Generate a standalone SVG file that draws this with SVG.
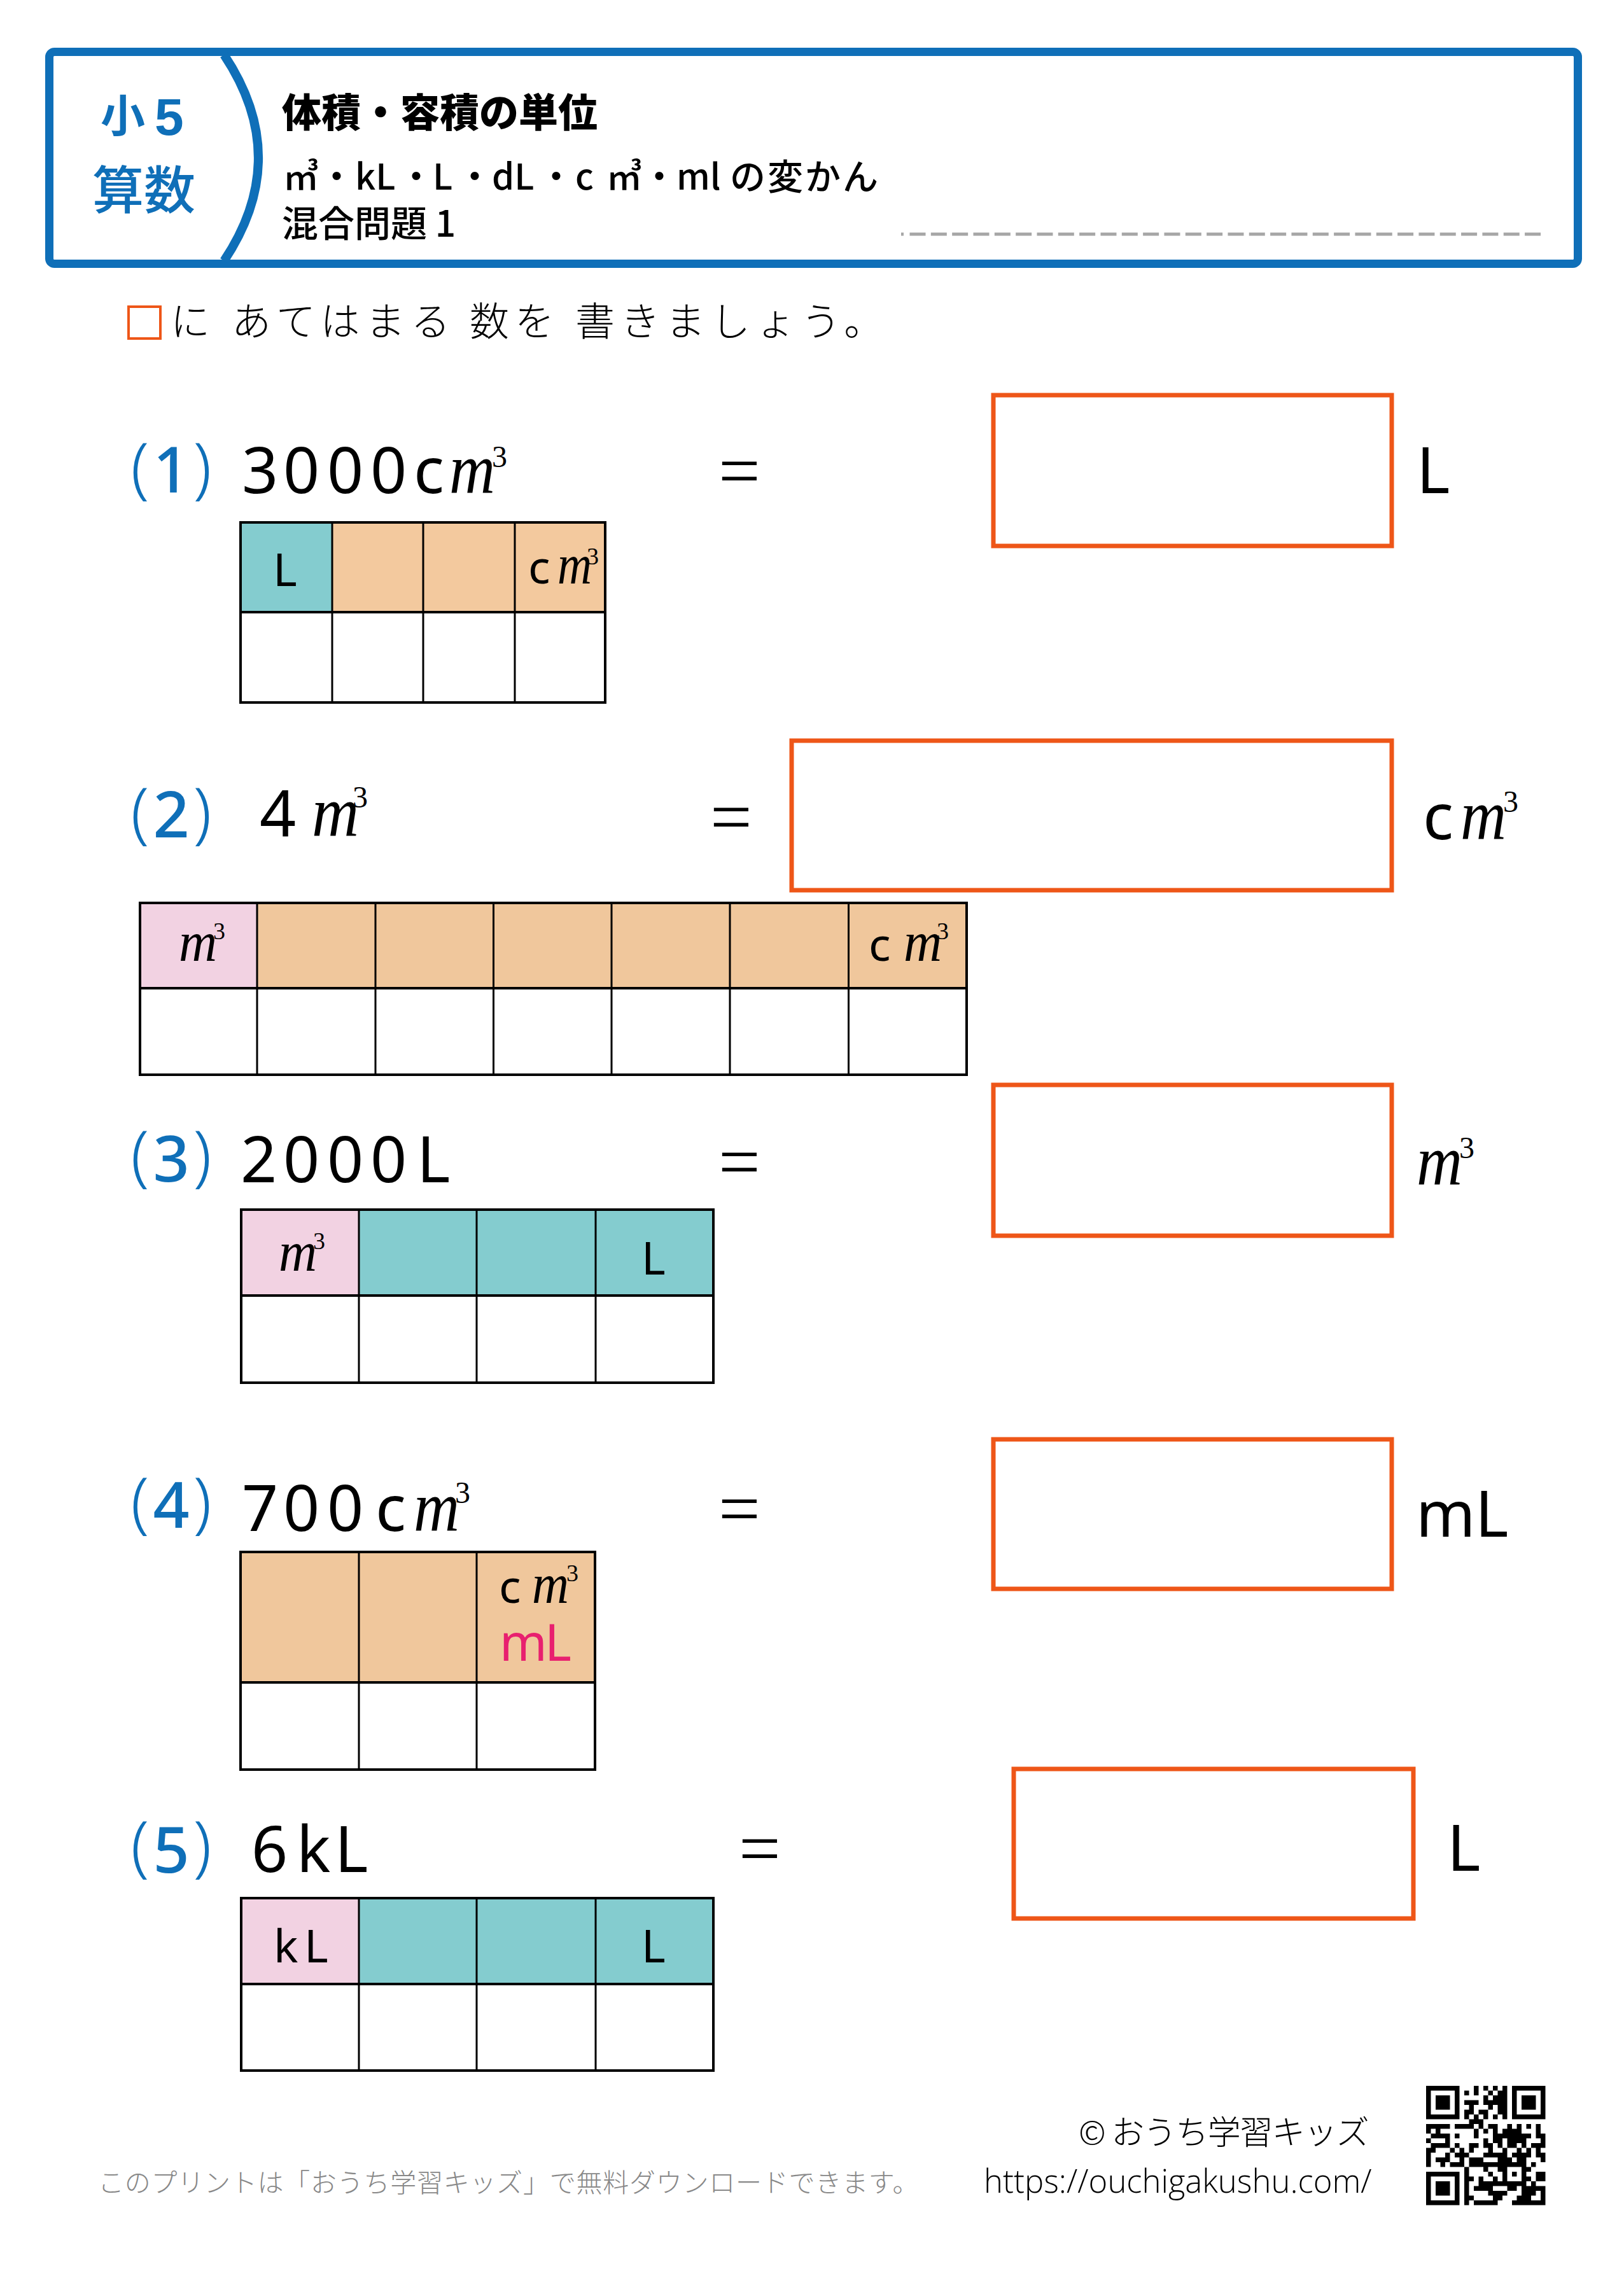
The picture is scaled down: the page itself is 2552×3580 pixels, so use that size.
<svg xmlns="http://www.w3.org/2000/svg" width="2552" height="3580" viewBox="0 0 2552 3580">
<style>
text{font-family:"Noto Sans","Noto Sans CJK JP",sans-serif;fill:#000}
.j{font-family:"Noto Sans CJK JP",sans-serif}
.blue{fill:#0f6fb8}
.no{fill:#0f6fb8;font-size:100px;font-weight:500;text-anchor:middle}
.pa{fill:#0f6fb8;font-size:104px;font-weight:300;text-anchor:middle}
.big{font-size:100px}
.mid{font-size:72px}
.m{font-family:"Liberation Serif",serif;font-style:italic;font-size:112px}
.m2{font-family:"Liberation Serif",serif;font-style:italic;font-size:88px}
.s{font-family:"Liberation Serif",serif;font-size:48px}
.s2{font-family:"Liberation Serif",serif;font-size:38px}
.eq{font-size:118px;font-weight:300;text-anchor:middle}
.ans{fill:#fff;stroke:#ee5618;stroke-width:7}
.grid{fill:none;stroke:#000;stroke-width:4}
.in{stroke:#000;stroke-width:3}
.teal{fill:#84cccf}.peach{fill:#f0c79c}.pink{fill:#f2d2e2}
.mag{fill:#e8206f}
</style>
<rect width="2552" height="3580" fill="#fff"/>
<g id="header">
<rect x="77.500" y="81.500" width="2402" height="333" rx="8" fill="#fff" stroke="#0f6fb8" stroke-width="13"/>
<path d="M352 86Q460 248 352 410" fill="none" stroke="#0f6fb8" stroke-width="14"/>
<text class="j blue" x="158" y="208" font-size="70" font-weight="700">小</text>
<text class="blue" x="243" y="212" font-size="82" font-weight="800" style="font-family:'Liberation Sans',sans-serif">5</text>
<text class="j blue" x="145" y="328" font-size="81" font-weight="500">算数</text>
<text class="j" x="443" y="200" font-size="62" font-weight="900">体積・容積の単位</text>
<text class="j" y="298" font-size="56" font-weight="500"><tspan x="445">㎥</tspan><tspan x="501">・</tspan><tspan x="558">kL</tspan><tspan x="626">・</tspan><tspan x="680">L</tspan><tspan x="718">・</tspan><tspan x="773">dL</tspan><tspan x="846">・</tspan><tspan x="904">c</tspan><tspan x="953">㎥</tspan><tspan x="1008">・</tspan><tspan x="1063">ml</tspan><tspan x="1147" letter-spacing="3">の変かん</tspan></text>
<text class="j" x="443" y="372" font-size="57" font-weight="500">混合問題 1</text>
<line x1="1416" y1="368" x2="1420" y2="368" stroke="#a6a6a6" stroke-width="5"/>
<line x1="1429.500" y1="368" x2="2422" y2="368" stroke="#a6a6a6" stroke-width="5" stroke-dasharray="25 8.33"/>
</g>
<g id="instruction">
<rect x="202" y="482" width="50" height="50" fill="#fff" stroke="#ee5618" stroke-width="4"/>
<text class="j" y="528" font-size="62" font-weight="300" letter-spacing="9"><tspan x="268">に</tspan><tspan x="364">あてはまる</tspan><tspan x="738">数を</tspan><tspan x="904">書きましょう。</tspan></text>
</g>
<g id="q1">
<text class="pa" x="220" y="771">(</text><text class="no" x="269" y="774">1</text><text class="pa" x="318" y="771">)</text>
<text class="big" x="380 445 514 582" y="775">3000</text>
<text class="big" y="775"><tspan x="650">c</tspan><tspan class="m" x="706" textLength="72" lengthAdjust="spacingAndGlyphs">m</tspan><tspan class="s" x="773" y="734">3</tspan></text>
<text class="eq" x="1162" y="782">=</text>
<rect class="ans" x="1561" y="621" width="626" height="237"/>
<text class="big" x="2226" y="775">L</text>
<g id="t1">
<rect class="teal" x="378" y="821" width="143" height="141"/><rect class="peach" x="521" y="821" width="430" height="141" style="fill:#f3c99e"/>
<rect class="grid" x="378" y="821" width="573" height="283"/>
<path class="in" d="M522 821V1104M665 821V1104M809 821V1104"/><path class="grid" d="M378 962H951"/>
<text class="mid" x="429" y="921">L</text>
<text class="mid" y="917"><tspan x="830">c</tspan><tspan class="m2" x="876" textLength="54" lengthAdjust="spacingAndGlyphs">m</tspan><tspan class="s2" x="922" y="887">3</tspan></text>
</g>
</g>
<g id="q2">
<text class="pa" x="220" y="1313">(</text><text class="no" x="269" y="1316">2</text><text class="pa" x="318" y="1313">)</text>
<text class="big" y="1314"><tspan x="408">4</tspan><tspan class="m" x="490" textLength="74" lengthAdjust="spacingAndGlyphs">m</tspan><tspan class="s" x="554" y="1269">3</tspan></text>
<text class="eq" x="1149" y="1326">=</text>
<rect class="ans" x="1244" y="1164" width="943" height="235"/>
<text class="big" y="1319"><tspan x="2236">c</tspan><tspan class="m" x="2295" textLength="72" lengthAdjust="spacingAndGlyphs">m</tspan><tspan class="s" x="2362" y="1276">3</tspan></text>
<g id="t2">
<rect class="pink" x="220" y="1419" width="184" height="134"/><rect class="peach" x="404" y="1419" width="1115" height="134"/>
<rect class="grid" x="220" y="1419" width="1299" height="270"/>
<path class="in" d="M404 1419V1689M590 1419V1689M775.500 1419V1689M961 1419V1689M1147 1419V1689M1333.500 1419V1689"/><path class="grid" d="M220 1553H1519"/>
<text class="m2" x="281" y="1510" textLength="60" lengthAdjust="spacingAndGlyphs">m</text>
<text class="s2" x="335" y="1476">3</text>
<text class="mid" y="1510"><tspan x="1365">c</tspan><tspan class="m2" x="1420" textLength="60" lengthAdjust="spacingAndGlyphs">m</tspan><tspan class="s2" x="1472" y="1476">3</tspan></text>
</g>
</g>
<g id="q3">
<text class="pa" x="220" y="1852">(</text><text class="no" x="269" y="1857">3</text><text class="pa" x="318" y="1852">)</text>
<text class="big" x="378 445 514 582 655" y="1858">2000L</text>
<text class="eq" x="1162" y="1868">=</text>
<rect class="ans" x="1561" y="1705" width="626" height="237"/>
<text class="big" y="1862"><tspan class="m" x="2226" textLength="72" lengthAdjust="spacingAndGlyphs">m</tspan><tspan class="s" x="2293" y="1820">3</tspan></text>
<g id="t3">
<rect class="pink" x="379" y="1901" width="185" height="135"/><rect class="teal" x="564" y="1901" width="372" height="135"/><rect class="teal" x="936" y="1901" width="185" height="135"/>
<rect class="grid" x="379" y="1901" width="742" height="272"/>
<path class="in" d="M564 1901V2173M749 1901V2173M936 1901V2173"/><path class="grid" d="M379 2036H1121"/>
<text class="m2" x="438" y="1997" textLength="60" lengthAdjust="spacingAndGlyphs">m</text>
<text class="s2" x="492" y="1963">3</text>
<text class="mid" x="1008" y="2003">L</text>
</g>
</g>
<g id="q4">
<text class="pa" x="220" y="2397">(</text><text class="no" x="269" y="2401">4</text><text class="pa" x="318" y="2397">)</text>
<text class="big" x="380 445 514" y="2406">700</text>
<text class="big" y="2406"><tspan x="590">c</tspan><tspan class="m" x="650" textLength="72" lengthAdjust="spacingAndGlyphs">m</tspan><tspan class="s" x="715" y="2362">3</tspan></text>
<text class="eq" x="1162" y="2413">=</text>
<rect class="ans" x="1561" y="2262" width="626" height="235"/>
<text class="big" x="2225 2318" y="2415">mL</text>
<g id="t4">
<rect class="peach" x="378" y="2439" width="558" height="205"/>
<rect class="grid" x="378" y="2439" width="557" height="342"/>
<path class="in" d="M564 2439V2781M749 2439V2781"/><path class="grid" d="M378 2644H935"/>
<text class="mid" y="2519"><tspan x="784">c</tspan><tspan class="m2" x="836" textLength="58" lengthAdjust="spacingAndGlyphs">m</tspan><tspan class="s2" x="890" y="2485">3</tspan></text>
<text class="mag" x="785 856" y="2610" font-size="80">mL</text>
</g>
</g>
<g id="q5">
<text class="pa" x="220" y="2937">(</text><text class="no" x="269" y="2943">5</text><text class="pa" x="318" y="2937">)</text>
<text class="big" x="395 466 526" y="2942">6kL</text>
<text class="eq" x="1194" y="2947">=</text>
<rect class="ans" x="1593" y="2780" width="628" height="235"/>
<text class="big" x="2274" y="2940">L</text>
<g id="t5">
<rect class="pink" x="379" y="2983" width="185" height="135"/><rect class="teal" x="564" y="2983" width="557" height="135"/>
<rect class="grid" x="379" y="2983" width="742" height="271"/>
<path class="in" d="M564 2983V3254M749 2983V3254M936 2983V3254"/><path class="grid" d="M379 3118H1121"/>
<text class="mid" x="430 478" y="3084">kL</text>
<text class="mid" x="1008" y="3084">L</text>
</g>
</g>
<g id="footer">
<text class="j" x="154" y="3445" font-size="41" font-weight="300" letter-spacing="0.750" style="fill:#888">このプリントは「おうち学習キッズ」で無料ダウンロードできます。</text>
<text class="j" x="1695" y="3370" font-size="52" font-weight="300" letter-spacing="-1.500">© おうち学習キッズ</text>
<text x="1546" y="3446" font-size="50.800" font-weight="300" style="font-family:'Open Sans',sans-serif">https://ouchigakushu.com/</text>
<path id="qr" transform="translate(2241,3278) scale(7.5)" fill="#000" fill-rule="evenodd" d="M0 0h7v7h-7zM1 1v5h5v-5zM2 2h3v3h-3zM18 0h7v7h-7zM19 1v5h5v-5zM20 2h3v3h-3zM0 18h7v7h-7zM1 19v5h5v-5zM2 20h3v3h-3zM10 0h1v2h-1zM12 0h1v1h-1zM14 0h1v1h-1zM16 0h1v1h-1zM8 1h1v1h-1zM13 1h1v1h-1zM15 1h2v1h-2zM12 2h1v1h-1zM14 2h3v1h-3zM8 3h3v1h-3zM12 3h5v1h-5zM9 4h1v1h-1zM13 4h1v1h-1zM15 4h2v1h-2zM8 5h2v1h-2zM11 5h2v1h-2zM15 5h2v1h-2zM8 6h1v1h-1zM10 6h1v1h-1zM12 6h1v1h-1zM14 6h1v1h-1zM16 6h1v1h-1zM9 7h3v1h-3zM0 8h5v1h-5zM6 8h4v1h-4zM11 8h1v1h-1zM13 8h2v1h-2zM17 8h1v1h-1zM19 8h1v1h-1zM21 8h1v1h-1zM23 8h1v1h-1zM0 9h1v1h-1zM2 9h1v1h-1zM10 9h1v1h-1zM12 9h1v1h-1zM14 9h1v1h-1zM16 9h4v1h-4zM23 9h1v1h-1zM1 10h4v1h-4zM6 10h1v1h-1zM10 10h1v1h-1zM14 10h8v1h-8zM23 10h2v1h-2zM0 11h1v1h-1zM4 11h1v1h-1zM12 11h1v1h-1zM14 11h2v1h-2zM17 11h4v1h-4zM24 11h1v1h-1zM1 12h4v1h-4zM6 12h1v1h-1zM9 12h2v1h-2zM12 12h2v1h-2zM15 12h1v1h-1zM17 12h2v1h-2zM20 12h1v1h-1zM22 12h3v1h-3zM0 13h2v1h-2zM5 13h1v1h-1zM7 13h1v1h-1zM9 13h1v1h-1zM13 13h1v1h-1zM16 13h1v1h-1zM19 13h1v1h-1zM21 13h1v1h-1zM23 13h1v1h-1zM0 14h1v1h-1zM4 14h1v1h-1zM6 14h3v1h-3zM12 14h5v1h-5zM18 14h4v1h-4zM23 14h2v1h-2zM0 15h1v1h-1zM2 15h3v1h-3zM7 15h1v1h-1zM9 15h3v1h-3zM15 15h3v1h-3zM19 15h2v1h-2zM24 15h1v1h-1zM0 16h1v1h-1zM3 16h1v1h-1zM5 16h3v1h-3zM9 16h12v1h-12zM22 16h1v1h-1zM8 17h1v1h-1zM12 17h1v1h-1zM15 17h2v1h-2zM20 17h2v1h-2zM8 18h1v1h-1zM13 18h1v1h-1zM16 18h1v1h-1zM18 18h1v1h-1zM20 18h1v1h-1zM23 18h2v1h-2zM8 19h2v1h-2zM11 19h1v1h-1zM14 19h1v1h-1zM16 19h1v1h-1zM20 19h2v1h-2zM23 19h2v1h-2zM8 20h1v1h-1zM11 20h10v1h-10zM22 20h1v1h-1zM8 21h1v1h-1zM10 21h4v1h-4zM17 21h2v1h-2zM20 21h5v1h-5zM8 22h1v1h-1zM13 22h4v1h-4zM20 22h3v1h-3zM24 22h1v1h-1zM8 23h2v1h-2zM14 23h2v1h-2zM19 23h3v1h-3zM24 23h1v1h-1zM8 24h1v1h-1zM10 24h5v1h-5zM18 24h7v1h-7z"/>
</g>
</svg>
